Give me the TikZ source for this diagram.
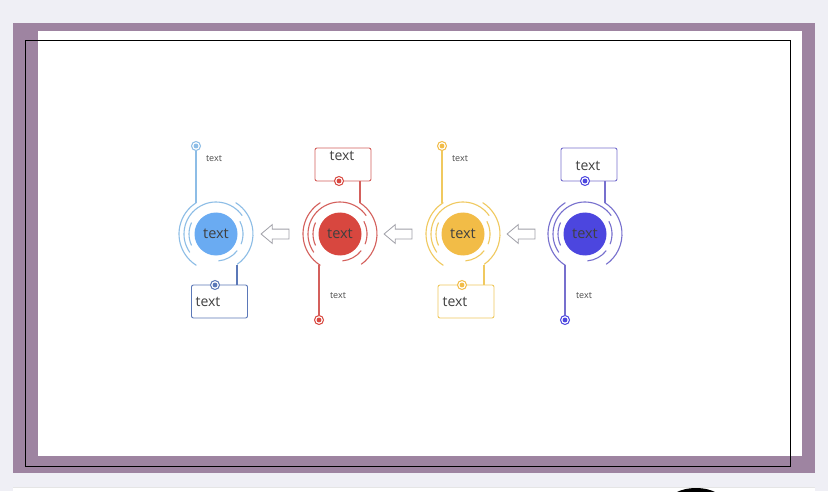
\documentclass[tikz,border=0pt]{standalone}
\usepackage{fontspec}
\setmainfont{Open Sans}
\usetikzlibrary{positioning, calc, shapes.arrows}

\definecolor{pageBg}{HTML}{EFEFF5}
\definecolor{frameViolet}{HTML}{9E84A1}
\definecolor{fillBlue}{HTML}{6AABF2}
\definecolor{lineBlue}{HTML}{8DBDE6}
\definecolor{boxBlue}{HTML}{5B78B8}
\definecolor{fillRed}{HTML}{D8473F}
\definecolor{lineRed}{HTML}{D4605C}
\definecolor{fillYellow}{HTML}{F2BC47}
\definecolor{lineYellow}{HTML}{F0C95F}
\definecolor{fillViolet}{HTML}{4C46DF}
\definecolor{lineViolet}{HTML}{7770CE}
\definecolor{arrowGray}{HTML}{A0A0A8}

\begin{document}
\begin{tikzpicture}[x=1pt, y=1pt,
    hub/.style={circle, fill=#1, minimum size=43, inner sep=0,
        font=\fontsize{14.5}{14.5}\selectfont, text=black!75},
    tagbox/.style={draw=#1, line width=0.9, rounded corners=2, fill=white,
        minimum width=56, minimum height=33, inner sep=0},
    tagtext/.style={font=\fontsize{14}{14}\selectfont, text=black!75, inner sep=0},
    smalltext/.style={font=\fontsize{9}{9}\selectfont, text=black!70, inner sep=0},
    pin/.style={circle, draw=#1, line width=1, fill=white, minimum size=9, inner sep=0,
        path picture={\fill[#1] (path picture bounding box.center) circle (2.4);}},
    stepline/.style={line width=1.1, draw=#1},
    backarrow/.style={single arrow, draw=arrowGray, line width=0.8, shape border rotate=180,
        minimum height=28, inner xsep=0, inner ysep=4.5, single arrow head extend=4.5,
        single arrow tip angle=80}]

    % page and frame
    \useasboundingbox (0,0) rectangle (828,491);
    \clip (0,0) rectangle (828,491);
    \fill[pageBg] (0,0) rectangle (828,491);
    \fill[frameViolet] (13,18) rectangle (815,468);
    \fill[white] (38,35) rectangle (802,460);
    \draw[line width=1] (25,25) rectangle (790,450);
    \fill[white] (13,-2) rectangle (815,4);
    \draw[black!10] (13,4) -- (815,4);
    \fill[black] (696,-12) ellipse (28 and 15);

    % hubs
    \node[hub=fillBlue] (hubA) at (216,257) {text};
    \node[hub=fillRed] (hubB) at (340,257) {text};
    \node[hub=fillYellow] (hubC) at (463,257) {text};
    \node[hub=fillViolet] (hubD) at (585,257) {text};

    % rings round the hubs
    \foreach \h/\c in {hubA/lineBlue, hubB/lineRed, hubC/lineYellow, hubD/lineViolet} {
        \draw[stepline=\c] ([shift={(122:37)}]\h.center) arc (122:238:37);
        \draw[stepline=\c] ([shift={(-55:37)}]\h.center) arc (-55:58:37);
        \draw[stepline=\c] ([shift={(35:32)}]\h.center) arc (35:215:32);
        \draw[stepline=\c] ([shift={(28:27)}]\h.center) arc (28:-22:27);
        \draw[stepline=\c] ([shift={(-38:27)}]\h.center) arc (-38:-85:27);
        \draw[stepline=\c] ([shift={(155:27)}]\h.center) arc (155:205:27);
    }

    % arrows between hubs
    \node[backarrow] (arrAB) at (278,257) {};
    \node[backarrow] (arrBC) at (401,257) {};
    \node[backarrow] (arrCD) at (524,257) {};

    % Step A (blue)
    \node[pin=lineBlue] (pinA) at (196,345) {};
    \node[smalltext] (noteA) at (214,332) {text};
    \coordinate (ringAtop) at ($(hubA.center)+(-20,31)$);
    \draw[stepline=lineBlue] (pinA) -- (ringAtop);
    \node[tagbox=boxBlue] (boxA) at (219.5,189.5) {};
    \node[tagtext] (labelA) at (208,189) {text};
    \node[pin=boxBlue] (pinA2) at (215,206) {};
    \coordinate (ringAbot) at ($(hubA.center)+(21,-30.5)$);
    \draw[stepline=boxBlue] (ringAbot) -- (ringAbot |- boxA.north);

    % Step B (red)
    \node[tagbox=lineRed] (boxB) at (343,326.5) {};
    \node[tagtext] (labelB) at (342,335) {text};
    \node[pin=fillRed] (pinB) at (339,310) {};
    \coordinate (ringBtop) at ($(hubB.center)+(20,31)$);
    \draw[stepline=lineRed] (ringBtop) -- (ringBtop |- boxB.south);
    \node[pin=fillRed] (pinB2) at (319,171) {};
    \node[smalltext] (noteB) at (338,195) {text};
    \coordinate (ringBbot) at ($(hubB.center)+(-21,-30.5)$);
    \draw[stepline=lineRed] (ringBbot) -- (pinB2);

    % Step C (yellow)
    \node[pin=fillYellow] (pinC) at (442,345) {};
    \node[smalltext] (noteC) at (460,332) {text};
    \coordinate (ringCtop) at ($(hubC.center)+(-21,31)$);
    \draw[stepline=lineYellow] (pinC) -- (ringCtop);
    \node[tagbox=lineYellow] (boxC) at (466,189.5) {};
    \node[tagtext] (labelC) at (455,189) {text};
    \node[pin=fillYellow] (pinC2) at (462,206) {};
    \coordinate (ringCbot) at ($(hubC.center)+(21,-30.5)$);
    \draw[stepline=lineYellow] (ringCbot) -- (ringCbot |- boxC.north);

    % Step D (violet)
    \node[tagbox=lineViolet] (boxD) at (589,326.5) {};
    \node[tagtext] (labelD) at (588,325) {text};
    \node[pin=fillViolet] (pinD) at (585,310) {};
    \coordinate (ringDtop) at ($(hubD.center)+(20,31)$);
    \draw[stepline=lineViolet] (ringDtop) -- (ringDtop |- boxD.south);
    \node[pin=fillViolet] (pinD2) at (565,171) {};
    \node[smalltext] (noteD) at (584,195) {text};
    \coordinate (ringDbot) at ($(hubD.center)+(-20,-30.5)$);
    \draw[stepline=lineViolet] (ringDbot) -- (pinD2);
\end{tikzpicture}
\end{document}
